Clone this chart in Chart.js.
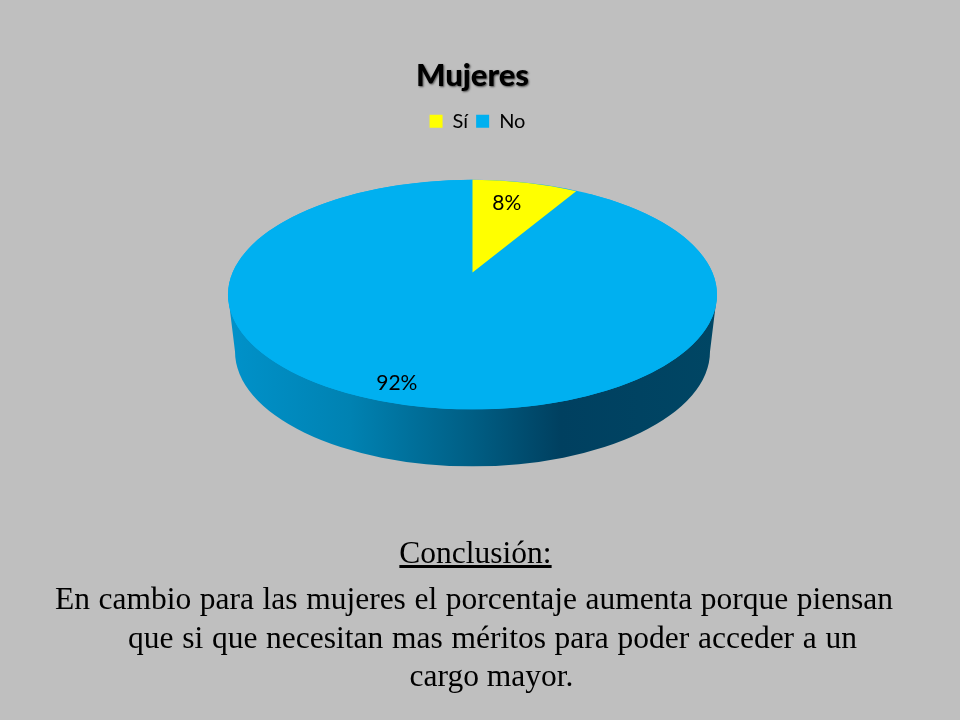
<!DOCTYPE html>
<html lang="es">
<head>
<meta charset="utf-8">
<title>Mujeres</title>
<script src="https://cdn.jsdelivr.net/npm/chart.js@4/dist/chart.umd.js"></script>
<style>
  html, body { margin: 0; background: #BFBFBF; }
  #wrap { position: relative; width: 960px; height: 720px; overflow: hidden; }
  canvas { position: absolute; left: 0; top: 0; }
  .linea {
    position: absolute; font-family: "Liberation Serif", serif; font-size: 31.5px;
    line-height: 34px; color: #000; white-space: normal;
  }
  .just { text-align: justify; text-align-last: justify; }
  .cen { text-align: center; }
</style>
</head>
<body>
<div id="wrap">
  <canvas id="grafica" width="960" height="720"></canvas>
  <div class="linea cen" style="left:0;width:951px;top:536px"><u>Conclusión:</u></div>
  <div class="linea just" style="left:55px;width:838px;top:582px">En cambio para las mujeres el porcentaje aumenta porque piensan</div>
  <div class="linea just" style="left:128px;width:729px;top:621px">que si que necesitan mas méritos para poder acceder a un</div>
  <div class="linea cen" style="left:0;width:983px;top:659px">cargo mayor.</div>
</div>
<script>
// Datos
const categorias = ["Sí", "No"];
const valores = [8, 92];
const colores = ["#FFFF00", "#00B0F0"];

// Vista 3D de la tarta
const RADIO = 244.5;
const INCLINACION = 115 / 245;   // aplastado de la cara superior
const GROSOR = 57;               // caida de la pared lateral
const ESTRECHA = 7;              // la base se ve algo mas estrecha
// la cuña pequeña tiene el vertice mas arriba por la perspectiva
const CUNA = { subir: 22, sx: 0.88, sy: 93 / 245 };
// Colocacion de etiquetas: fraccion del radio y ajuste en x
const ETIQUETAS = [{ f: 0.77, dx: -7 }, { f: 0.8, dx: -27 }];

function transformar(ctx, arc, i) {
  if (i === 0) {
    ctx.translate(arc.x, arc.y - CUNA.subir);
    ctx.scale(CUNA.sx, CUNA.sy);
  } else {
    ctx.translate(arc.x, arc.y);
    ctx.scale(1, INCLINACION);
  }
  ctx.translate(-arc.x, -arc.y);
}

const pastel3d = {
  id: "pastel3d",
  beforeDatasetDraw(chart, args) {
    const ctx = chart.ctx;
    const arcs = args.meta.data;
    const { x, y } = arcs[0];
    const ry = RADIO * INCLINACION;

    // Pared lateral
    const grad = ctx.createLinearGradient(x - RADIO, 0, x + RADIO, 0);
    grad.addColorStop(0, "#0092CA");
    grad.addColorStop(0.25, "#0082B2");
    grad.addColorStop(0.5, "#005E84");
    grad.addColorStop(0.68, "#004060");
    grad.addColorStop(1, "#004664");
    ctx.save();
    ctx.fillStyle = grad;
    ctx.beginPath();
    ctx.moveTo(x - RADIO, y);
    ctx.lineTo(x - RADIO + ESTRECHA, y + GROSOR);
    ctx.ellipse(x, y + GROSOR, RADIO - ESTRECHA, ry, 0, Math.PI, 0, true);
    ctx.lineTo(x + RADIO, y);
    ctx.closePath();
    ctx.fill();

    // Cara superior completa bajo las porciones
    ctx.fillStyle = colores[1];
    ctx.beginPath();
    ctx.ellipse(x, y, RADIO, ry, 0, 0, Math.PI * 2);
    ctx.fill();
    ctx.restore();

    // Porciones, cada una con su transformacion
    arcs.slice().reverse().forEach(arc => {
      const i = arcs.indexOf(arc);
      ctx.save();
      transformar(ctx, arc, i);
      arc.draw(ctx);
      ctx.restore();
    });

    // Etiquetas de porcentaje
    const total = valores.reduce((a, b) => a + b, 0);
    ctx.save();
    ctx.font = "21px Lato";
    ctx.fillStyle = "#000";
    ctx.textAlign = "center";
    ctx.textBaseline = "middle";
    arcs.forEach((arc, i) => {
      const medio = (arc.startAngle + arc.endAngle) / 2;
      const r = arc.outerRadius * ETIQUETAS[i].f;
      const p = new DOMMatrix();
      if (i === 0) {
        p.translateSelf(0, -CUNA.subir).scaleSelf(CUNA.sx, CUNA.sy);
      } else {
        p.scaleSelf(1, INCLINACION);
      }
      const q = p.transformPoint({ x: Math.cos(medio) * r, y: Math.sin(medio) * r });
      const txt = Math.round(valores[i] / total * 100) + "%";
      ctx.fillText(txt, arc.x + q.x + ETIQUETAS[i].dx, arc.y + q.y);
    });
    ctx.restore();
    return false;
  },
  beforeDraw(chart) {
    // Sombra del titulo
    const t = chart.titleBlock;
    if (t && !t._conSombra) {
      const dibuja = t.draw.bind(t);
      t.draw = function () {
        const ctx = chart.ctx;
        ctx.save();
        ctx.shadowColor = "rgba(0,0,0,0.6)";
        ctx.shadowBlur = 2;
        ctx.shadowOffsetX = 1;
        ctx.shadowOffsetY = 1;
        dibuja();
        ctx.restore();
      };
      t._conSombra = true;
    }
    // La leyenda va un poco a la derecha del titulo
    const l = chart.legend;
    if (l && !l._movida) {
      const dibujaL = l.draw.bind(l);
      l.draw = function () {
        chart.ctx.save();
        chart.ctx.translate(5, 0);
        dibujaL();
        chart.ctx.restore();
      };
      l._movida = true;
    }
  }
};

new Chart(document.getElementById("grafica").getContext("2d"), {
  type: "pie",
  plugins: [pastel3d],
  data: {
    labels: categorias,
    datasets: [{
      data: valores,
      backgroundColor: colores,
      borderWidth: 0,
      radius: RADIO,
      clip: false
    }]
  },
  options: {
    responsive: false,
    animation: false,
    layout: { padding: { top: 53, right: 15, bottom: 272, left: 0 } },
    plugins: {
      tooltip: { enabled: false },
      title: {
        display: true,
        text: "Mujeres",
        color: "#000",
        font: { family: "Lato", size: 31, weight: "900" },
        padding: { top: 4, bottom: 9 }
      },
      legend: {
        display: true,
        position: "top",
        labels: {
          color: "#000",
          font: { family: "Lato", size: 20 },
          boxWidth: 13,
          boxHeight: 13,
          padding: 8
        }
      }
    }
  }
});
</script>
</body>
</html>
